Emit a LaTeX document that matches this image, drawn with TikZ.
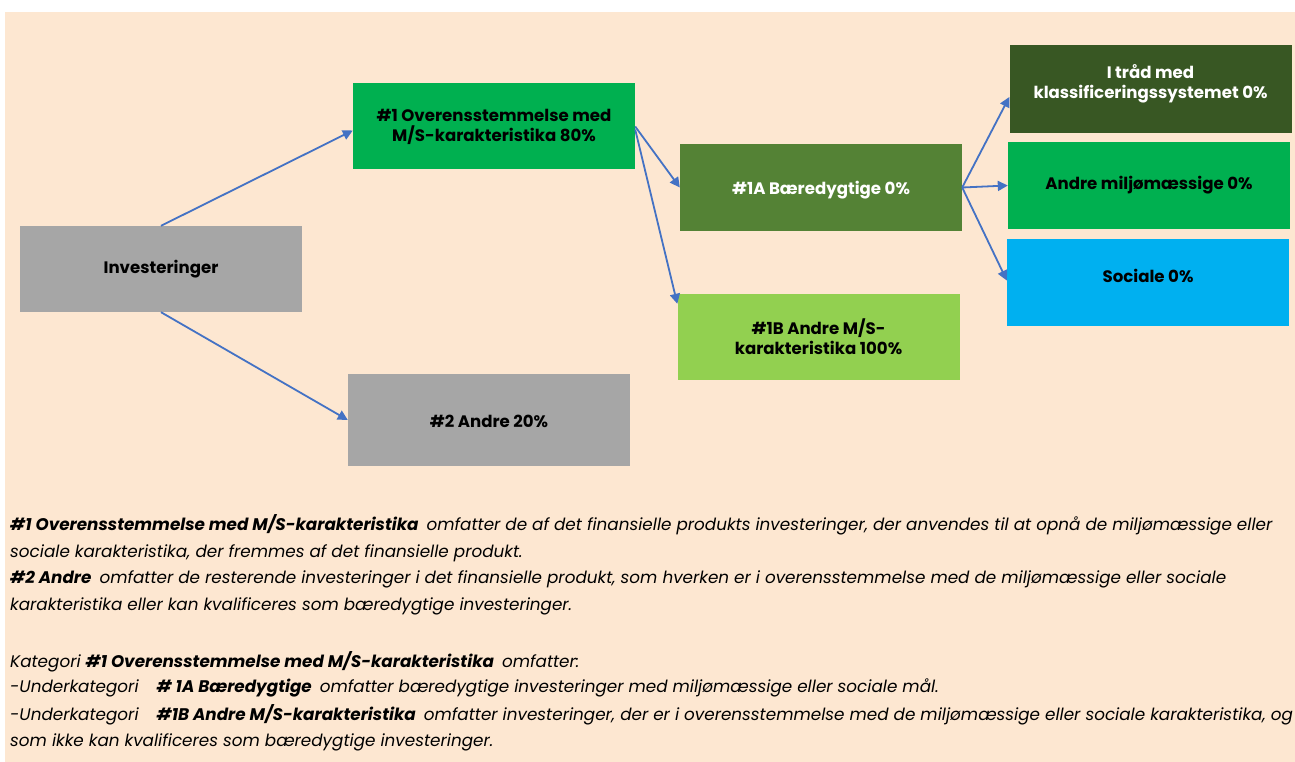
\documentclass[tikz,border=0pt]{standalone}
\usepackage{fontspec}
\setmainfont{Poppins}
\usetikzlibrary{arrows.meta}

\definecolor{peach}{RGB}{253,231,209}
\definecolor{grijs}{RGB}{166,166,166}
\definecolor{groen}{RGB}{0,176,80}
\definecolor{mosgroen}{RGB}{84,130,53}
\definecolor{lichtgroen}{RGB}{146,208,80}
\definecolor{donkergroen}{RGB}{56,87,35}
\definecolor{hemelblauw}{RGB}{0,176,240}
\definecolor{pijlblauw}{RGB}{68,114,196}

\tikzset{
  vak/.style={minimum width=282pt, minimum height=86pt, inner sep=0pt,
    align=center, font=\fontsize{16.6}{20}\selectfont\bfseries},
  pijl/.style={-{Triangle[width=10pt,length=10pt]}, line width=1.8pt, pijlblauw},
  regel/.style={anchor=base west, inner sep=0pt, font=\fontsize{16.8}{20}\selectfont\itshape}
}

\begin{document}
\begin{tikzpicture}[x=1pt,y=-1pt]
  \useasboundingbox (0,0) rectangle (1295,762);
  \fill[peach] (5,12) rectangle (1295,762);

  % vakken
  \node[vak, fill=grijs] (inv) at (161,269) {Investeringer};
  \node[vak, fill=groen] (ov) at (494,126.5) {\#1 Overensstemmelse med\\M/S-karakteristika 80\%};
  \node[vak, fill=grijs, minimum height=92pt, text height=16pt] (andre) at (489,420) {\#2 Andre 20\%};
  \node[vak, fill=mosgroen, text=white, text height=18pt] (baer) at (821,187.5) {\#1A Bæredygtige 0\%};
  \node[vak, fill=lichtgroen] (msk) at (818.5,337) {\#1B Andre M/S-\\karakteristika 100\%};
  \node[vak, fill=donkergroen, text=white, minimum height=88pt, text depth=14pt] (trad) at (1150.5,89) {I tråd med\\klassificeringssystemet 0\%};
  \node[vak, fill=groen, minimum height=87pt] (miljo) at (1149,185.5) {Andre miljømæssige 0\%};
  \node[vak, fill=hemelblauw, minimum height=87pt, text depth=14pt] (soc) at (1148,282.5) {Sociale 0\%};

  % pijlen
  \draw[pijl] (inv.north) -- ([yshift=-4pt]ov.west);
  \draw[pijl] (inv.south) -- (andre.west);
  \draw[pijl] (ov.east) -- (baer.west);
  \draw[pijl] ([yshift=-3pt]ov.east) -- ([yshift=-10pt]msk.north west);
  \draw[pijl] (baer.east) -- ([yshift=-8pt]trad.west);
  \draw[pijl] (baer.east) -- (miljo.west);
  \draw[pijl] (baer.east) -- ([yshift=2pt]soc.west);

  % toelichting
  \begin{scope}
    \clip (5,500) rectangle (1295,762);
    \node[regel] (r1) at (10,530) {\textbf{\#1 Overensstemmelse med M/S-karakteristika}\hspace{8pt}omfatter de af det finansielle produkts investeringer, der anvendes til at opnå de miljømæssige eller};
    \node[regel] (r2) at (10,557) {sociale karakteristika, der fremmes af det finansielle produkt.};
    \node[regel] (r3) at (10,583) {\textbf{\#2 Andre}\hspace{8pt}omfatter de resterende investeringer i det finansielle produkt, som hverken er i overensstemmelse med de miljømæssige eller sociale};
    \node[regel] (r4) at (10,610) {karakteristika eller kan kvalificeres som bæredygtige investeringer.};
    \node[regel] (r5) at (10,667) {Kategori \textbf{\#1 Overensstemmelse med M/S-karakteristika}\hspace{8pt}omfatter:};
    \node[regel] (r6) at (10,692) {-Underkategori\hspace{18pt}\textbf{\# 1A Bæredygtige}\hspace{8pt}omfatter bæredygtige investeringer med miljømæssige eller sociale mål.};
    \node[regel] (r7) at (10,720) {-Underkategori\hspace{18pt}\textbf{\#1B Andre M/S-karakteristika}\hspace{8pt}omfatter investeringer, der er i overensstemmelse med de miljømæssige eller sociale karakteristika, og};
    \node[regel] (r8) at (10,746) {som ikke kan kvalificeres som bæredygtige investeringer.};
  \end{scope}
\end{tikzpicture}
\end{document}
